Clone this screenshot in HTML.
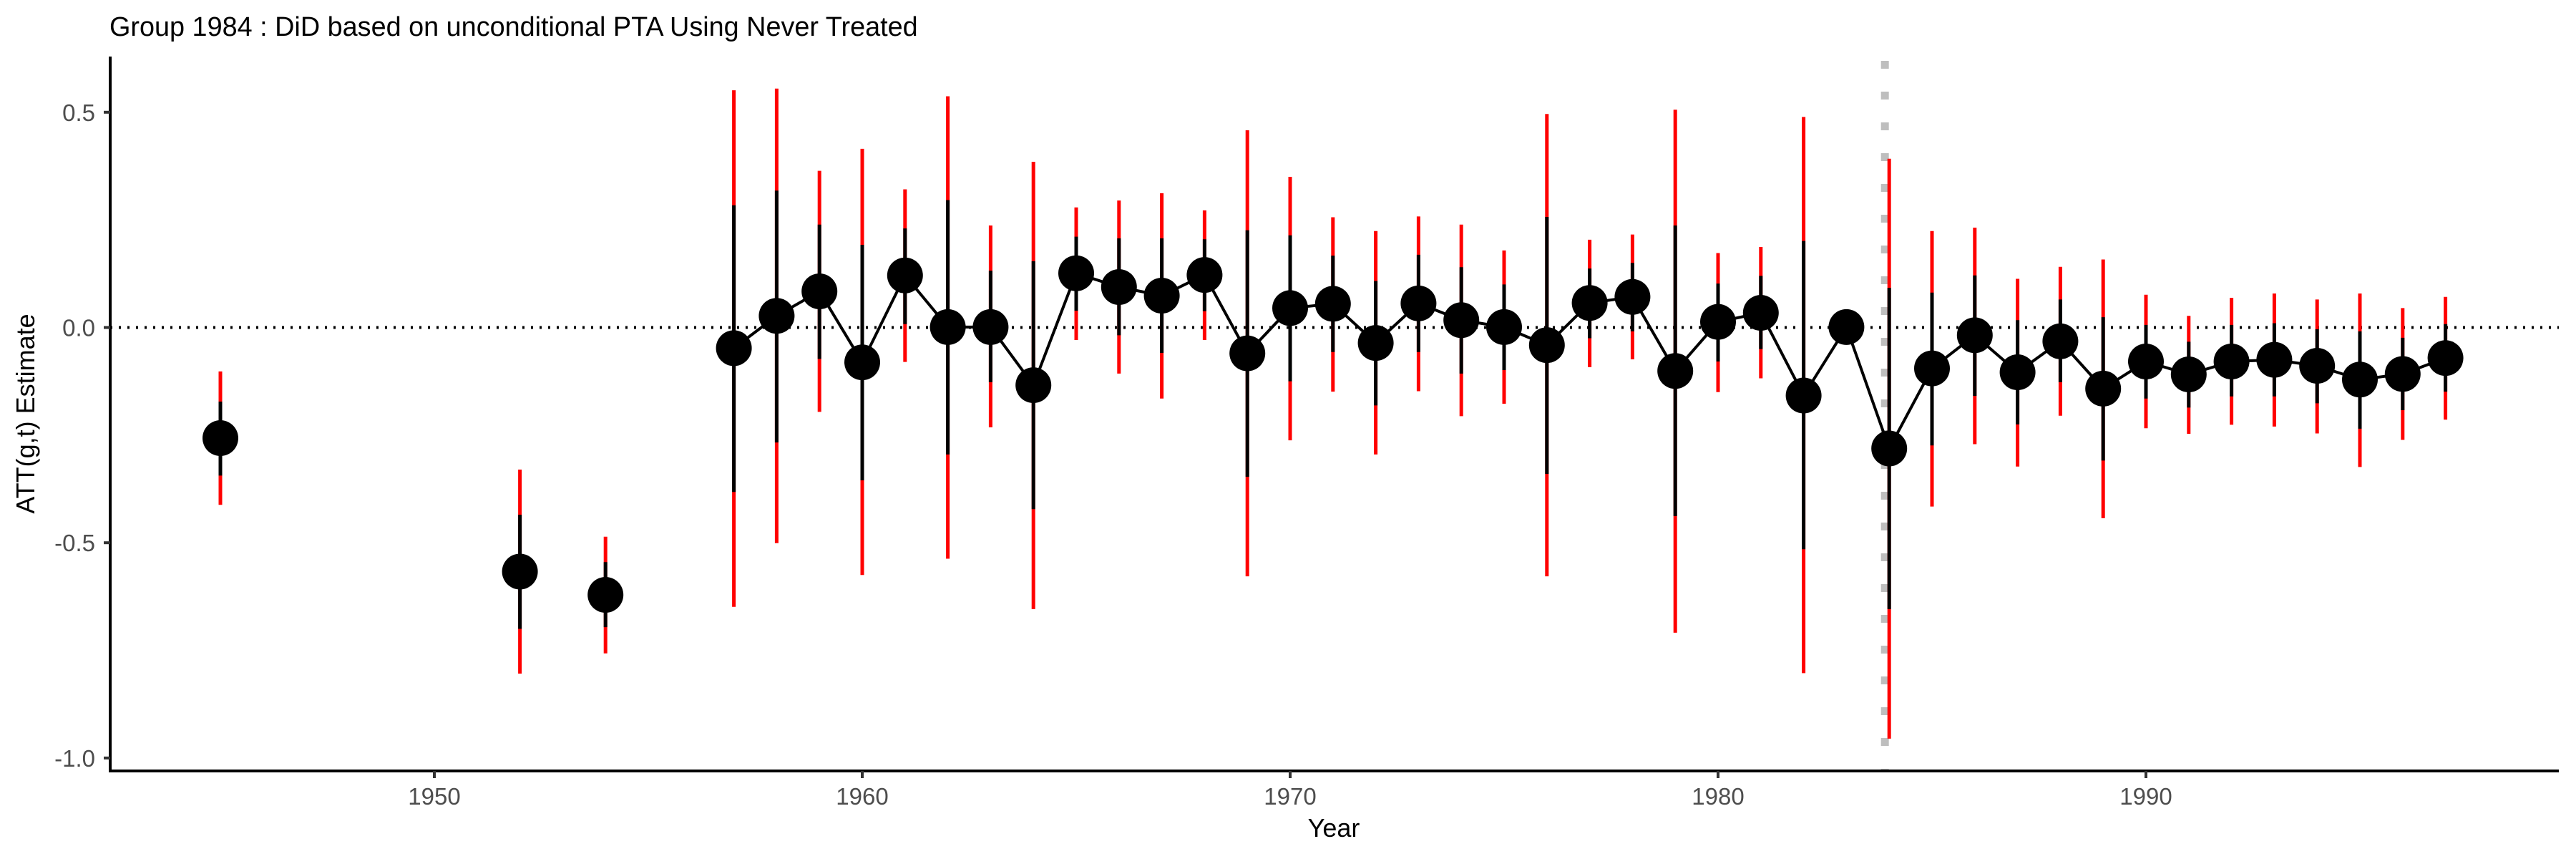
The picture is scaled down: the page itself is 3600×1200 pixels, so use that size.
<!DOCTYPE html>
<html><head><meta charset="utf-8"><style>
html,body{margin:0;padding:0;background:#fff;}
svg{display:block;font-family:"Liberation Sans",sans-serif;}
</style></head><body>
<svg id="chart" width="3600" height="1200" viewBox="0 0 3600 1200">
<text x="153" y="50" font-size="37.8" fill="#000">Group 1984 : DiD based on unconditional PTA Using Never Treated</text>
<g id="plot"></g>
<text x="1864" y="1169" font-size="36" text-anchor="middle" fill="#000">Year</text>
<text transform="translate(48,578) rotate(-90)" font-size="36" text-anchor="middle" fill="#000">ATT(g,t) Estimate</text>
</svg>
<script>
const years=[1945,1952,1954,1957,1958,1959,1960,1961,1962,1963,1964,1965,1966,1967,1968,1969,1970,1971,1972,1973,1974,1975,1976,1977,1978,1979,1980,1981,1982,1983,1984,1985,1986,1987,1988,1989,1990,1991,1992,1993,1994,1995,1996,1997];
const att=[-0.257,-0.567,-0.621,-0.048,0.027,0.084,-0.081,0.121,0.001,0.001,-0.134,0.126,0.094,0.074,0.122,-0.060,0.045,0.055,-0.036,0.056,0.017,0.001,-0.041,0.057,0.071,-0.101,0.013,0.034,-0.158,0.001,-0.281,-0.095,-0.018,-0.104,-0.032,-0.142,-0.079,-0.109,-0.079,-0.075,-0.089,-0.121,-0.108,-0.071];
const ptHi=[-0.172,-0.435,-0.545,0.284,0.318,0.239,0.192,0.23,0.296,0.132,0.154,0.211,0.207,0.207,0.205,0.226,0.214,0.167,0.108,0.169,0.140,0.100,0.257,0.137,0.150,0.237,0.102,0.120,0.201,0.001,0.092,0.081,0.121,0.017,0.065,0.024,0.006,-0.033,0.006,0.010,-0.004,-0.009,-0.024,0.008];
const ptLo=[-0.344,-0.70,-0.696,-0.382,-0.267,-0.073,-0.355,0.008,-0.295,-0.127,-0.422,0.039,-0.018,-0.059,0.038,-0.347,-0.125,-0.057,-0.181,-0.057,-0.107,-0.099,-0.340,-0.025,-0.009,-0.438,-0.079,-0.050,-0.515,0.001,-0.654,-0.274,-0.159,-0.225,-0.127,-0.309,-0.165,-0.186,-0.160,-0.160,-0.176,-0.235,-0.192,-0.149];
const unHi=[-0.102,-0.33,-0.486,0.551,0.555,0.364,0.415,0.321,0.537,0.237,0.385,0.279,0.295,0.312,0.272,0.458,0.350,0.256,0.224,0.258,0.239,0.179,0.496,0.204,0.216,0.506,0.173,0.187,0.489,0.001,0.392,0.224,0.232,0.113,0.141,0.158,0.076,0.027,0.069,0.079,0.065,0.079,0.045,0.071];
const unLo=[-0.412,-0.804,-0.757,-0.649,-0.501,-0.196,-0.575,-0.080,-0.537,-0.232,-0.654,-0.029,-0.107,-0.165,-0.029,-0.578,-0.262,-0.149,-0.295,-0.148,-0.206,-0.177,-0.578,-0.092,-0.074,-0.709,-0.150,-0.118,-0.803,0.001,-0.955,-0.416,-0.271,-0.323,-0.205,-0.443,-0.234,-0.247,-0.226,-0.230,-0.246,-0.324,-0.261,-0.214];
const xTicks=[1950,1960,1970,1980,1990];
const yTicks=[0.5,0.0,-0.5,-1.0];
const yTickLabels=["0.5","0.0","-0.5","-1.0"];
const treatYear=1984;
const lineStart=1957;

const NS="http://www.w3.org/2000/svg";
const X=v=>607+(v-1950)*59.8;
const Y=v=>457.5-v*601.4;
const plot=document.getElementById('plot');
function mk(tag,attrs){const e=document.createElementNS(NS,tag);for(const k in attrs)e.setAttribute(k,attrs[k]);plot.appendChild(e);return e;}

let e;
e=mk('line',{x1:154,x2:3576,y1:Y(0),y2:Y(0),stroke:'#000','stroke-width':4,'stroke-dasharray':'3 9'});


e=mk('line',{x1:X(treatYear)-6,x2:X(treatYear)-6,y1:85,y2:1077,stroke:'#BEBEBE','stroke-width':11,'stroke-dasharray':'11 32'});



let pts=[];
years.forEach((y,i)=>{if(y>=lineStart)pts.push(X(y)+','+Y(att[i]));});
e=mk('polyline',{points:pts.join(' '),fill:'none',stroke:'#000','stroke-width':4});



years.forEach((y,i)=>{
  if(unHi[i]!==unLo[i]){
    let r=mk('line',{x1:X(y),x2:X(y),y1:Y(unHi[i]),y2:Y(unLo[i]),stroke:'#FF0000','stroke-width':5});
    
    
    let b=mk('line',{x1:X(y),x2:X(y),y1:Y(ptHi[i]),y2:Y(ptLo[i]),stroke:'#000','stroke-width':5});
    
    
  }
});
years.forEach((y,i)=>{
  let c=mk('circle',{cx:X(y),cy:Y(att[i]),r:25,fill:'#000'});
  
  
});

e=mk('line',{x1:154,x2:154,y1:79,y2:1079,stroke:'#000','stroke-width':4});


e=mk('line',{x1:152,x2:3576,y1:1077,y2:1077,stroke:'#000','stroke-width':4});



yTicks.forEach((v,i)=>{
  let t=mk('line',{x1:145,x2:154,y1:Y(v),y2:Y(v),stroke:'#333','stroke-width':4});
  
  
  let l=mk('text',{x:133,y:Y(v)+12,'font-size':33,'text-anchor':'end',fill:'#4D4D4D'});
  l.textContent=yTickLabels[i];
  
  
});
xTicks.forEach(v=>{
  let t=mk('line',{x1:X(v),x2:X(v),y1:1077,y2:1087,stroke:'#333','stroke-width':4});
  
  
  let l=mk('text',{x:X(v),y:1124,'font-size':33,'text-anchor':'middle',fill:'#4D4D4D'});
  l.textContent=String(v);
  
  
});
</script>
</body></html>
